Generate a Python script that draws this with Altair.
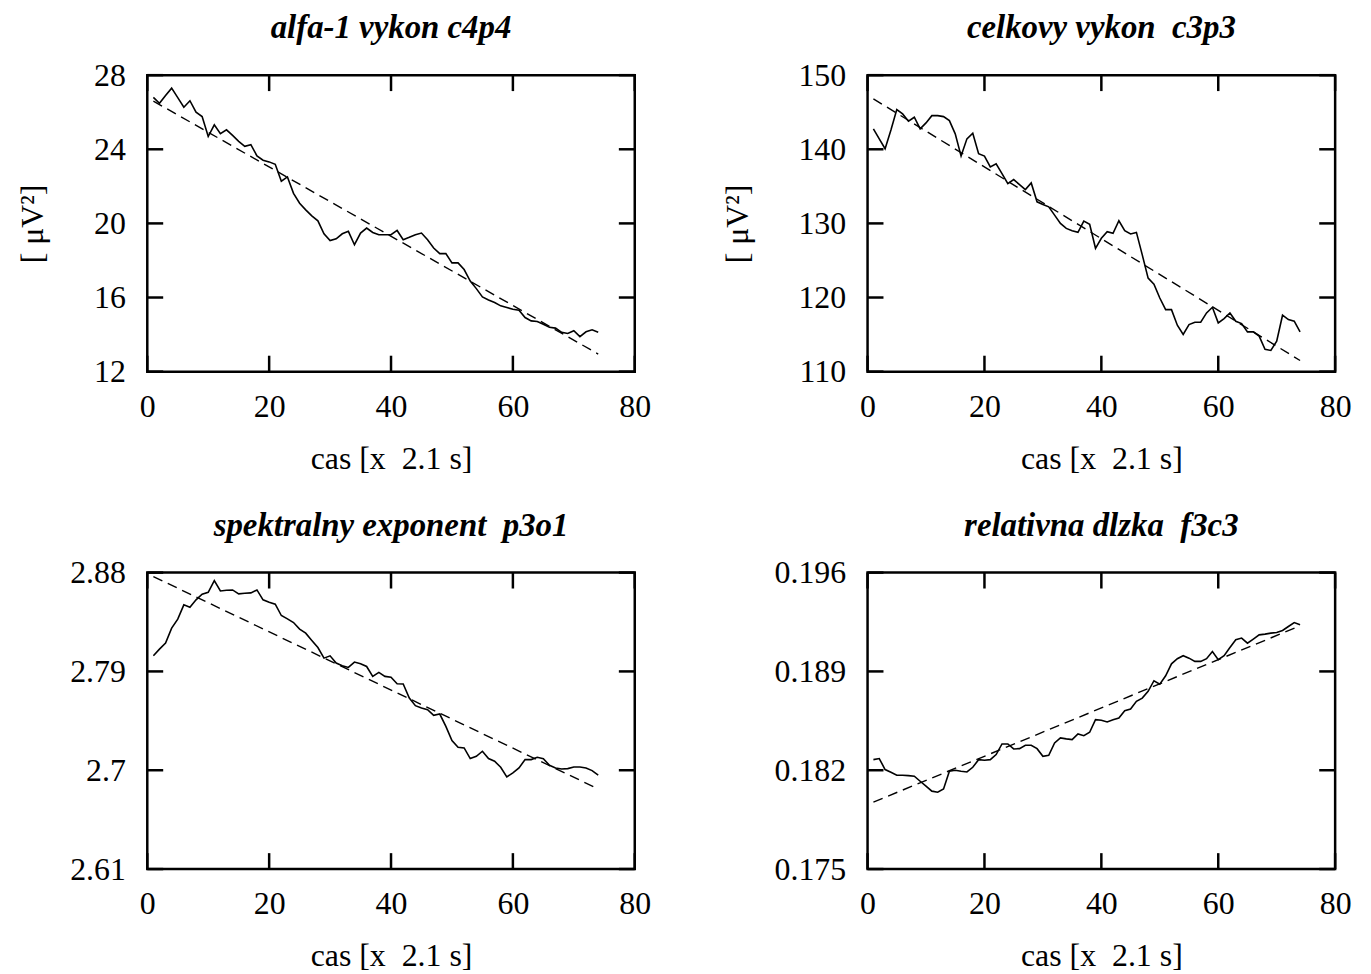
import altair as alt
import pandas as pd

# time index (x categories)
X_IDX = list(range(1, 75))

# alfa-1 vykon c4p4
ALFA = [26.80, 26.48, 26.90, 27.30, 26.79, 26.27, 26.62, 26.00, 25.77, 24.69,
        25.32, 24.84, 25.05, 24.75, 24.43, 24.16, 24.25, 23.64, 23.41, 23.32,
        23.19, 22.28, 22.51, 21.62, 21.09, 20.73, 20.41, 20.14, 19.44, 19.07,
        19.17, 19.44, 19.57, 18.85, 19.48, 19.75, 19.51, 19.39, 19.39, 19.39,
        19.62, 19.12, 19.25, 19.39, 19.48, 19.12, 18.67, 18.37, 18.37, 17.87,
        17.87, 17.51, 16.89, 16.48, 16.03, 15.87, 15.73, 15.55, 15.46, 15.37,
        15.31, 14.92, 14.74, 14.71, 14.56, 14.39, 14.35, 14.12, 14.06, 14.21,
        13.89, 14.15, 14.26, 14.12]

# celkovy vykon c3p3
CELK = [142.75, 141.40, 140.07, 142.60, 145.35, 144.77, 143.78, 144.32, 142.75, 143.56,
        144.54, 144.54, 144.41, 143.87, 142.08, 139.08, 141.41, 142.17, 139.40, 139.08,
        137.61, 138.05, 136.71, 135.37, 135.91, 135.23, 134.56, 135.46, 132.91, 132.55,
        132.24, 131.12, 130.00, 129.33, 129.02, 128.79, 130.31, 129.87, 126.64, 127.99,
        128.88, 128.66, 130.36, 129.02, 128.57, 128.79, 125.75, 122.62, 121.81, 119.93,
        118.37, 118.37, 116.26, 115.01, 116.35, 116.67, 116.67, 117.92, 118.68, 116.58,
        117.16, 117.92, 116.80, 116.49, 115.37, 115.37, 114.79, 113.00, 112.86, 114.12,
        117.61, 117.02, 116.80, 115.37]

# spektralny exponent p3o1
SPEK = [2.8042, 2.8103, 2.8158, 2.8294, 2.8376, 2.8506, 2.8485, 2.8552, 2.8603, 2.8621,
        2.8727, 2.8633, 2.8639, 2.8642, 2.8606, 2.8612, 2.8615, 2.8642, 2.8552, 2.8530,
        2.8512, 2.8409, 2.8379, 2.8345, 2.8285, 2.8248, 2.8182, 2.8118, 2.8021, 2.8042,
        2.7976, 2.7952, 2.7936, 2.7985, 2.7970, 2.7945, 2.7855, 2.7891, 2.7855, 2.7848,
        2.7788, 2.7785, 2.7658, 2.7588, 2.7567, 2.7552, 2.7500, 2.7512, 2.7400, 2.7270,
        2.7209, 2.7203, 2.7106, 2.7127, 2.7173, 2.7106, 2.7082, 2.7027, 2.6939, 2.6976,
        2.7021, 2.7097, 2.7097, 2.7118, 2.7106, 2.7045, 2.7021, 2.7012, 2.7015, 2.7030,
        2.7030, 2.7021, 2.6997, 2.6955]

# relativna dlzka f3c3
RELD = [0.18275, 0.18283, 0.18205, 0.18186, 0.18165, 0.18165, 0.18162, 0.18158, 0.18122, 0.18087,
        0.18052, 0.18044, 0.18068, 0.18193, 0.18200, 0.18193, 0.18188, 0.18221, 0.18275, 0.18271,
        0.18275, 0.18311, 0.18386, 0.18386, 0.18351, 0.18353, 0.18377, 0.18377, 0.18353, 0.18299,
        0.18306, 0.18393, 0.18429, 0.18422, 0.18417, 0.18457, 0.18445, 0.18469, 0.18558, 0.18554,
        0.18542, 0.18558, 0.18570, 0.18622, 0.18634, 0.18688, 0.18711, 0.18759, 0.18834, 0.18810,
        0.18869, 0.18954, 0.18990, 0.19011, 0.18994, 0.18971, 0.18971, 0.18990, 0.19041, 0.18983,
        0.19011, 0.19070, 0.19124, 0.19136, 0.19100, 0.19129, 0.19159, 0.19164, 0.19171, 0.19176,
        0.19190, 0.19218, 0.19246, 0.19230]

# dashed linear trend: end points at TREND_X
TREND_X = [1, 74]
ALFA_TREND = [26.60, 12.95]
CELK_TREND = [146.80, 111.50]
SPEK_TREND = [2.8764, 2.6830]
RELD_TREND = [0.17974, 0.19223]

X_TICKS = [0, 20, 40, 60, 80]
ALFA_TICKS = [12, 16, 20, 24, 28]
CELK_TICKS = [110, 120, 130, 140, 150]
SPEK_TICKS = [2.61, 2.7, 2.79, 2.88]
RELD_TICKS = [0.175, 0.182, 0.189, 0.196]

TITLES = ["alfa-1 vykon c4p4", "celkovy vykon\u00a0 c3p3",
          "spektralny exponent\u00a0 p3o1", "relativna dlzka\u00a0 f3c3"]
YLABEL = "[ \u03bcV\u00b2]"
XLABEL = "cas [x\u00a0 2.1 s]"

FONT = "Liberation Serif"
FS = 32
TFS = 33
H = 298
TL = 16


def panel(vals, trend, title, ylabel, ydom, yticks, width):
    df = pd.DataFrame({"x": X_IDX, "y": vals})
    tdf = pd.DataFrame({"x": TREND_X, "y": trend})
    xt = pd.DataFrame({"x": X_TICKS})
    yt = pd.DataFrame({"y": yticks})
    xs = alt.Scale(domain=[0, 80], nice=False, zero=False)
    ys = alt.Scale(domain=ydom, nice=False, zero=False)
    xaxis = alt.Axis(values=X_TICKS, labelExpr="'' + datum.value", grid=False,
                     ticks=False, domain=False, labelFont=FONT, labelFontSize=FS,
                     labelColor="black", labelPadding=20, labelFlush=False,
                     labelOverlap=False, titleFont=FONT, titleFontSize=FS,
                     titleFontWeight="normal", titleColor="black", titlePadding=21)
    yaxis = alt.Axis(values=yticks, labelExpr="'' + datum.value", grid=False,
                     ticks=False, domain=False, labelFont=FONT, labelFontSize=FS,
                     labelColor="black", labelPadding=22, labelFlush=False,
                     labelOverlap=False, titleFont=FONT, titleFontSize=FS,
                     titleFontWeight="normal", titleColor="black", titlePadding=44)

    def xenc():
        return alt.X("x:Q", scale=xs, axis=xaxis, title=XLABEL)

    def yenc():
        if ylabel:
            return alt.Y("y:Q", scale=ys, axis=yaxis, title=ylabel)
        return alt.Y("y:Q", scale=ys, axis=yaxis, title=None)

    line = alt.Chart(df).mark_line(color="black", strokeWidth=1.6).encode(
        x=xenc(), y=yenc())
    trendl = alt.Chart(tdf).mark_line(color="black", strokeWidth=1.4,
                                      strokeDash=[10, 6]).encode(x=xenc(), y=yenc())
    rule = dict(color="black", strokeWidth=2.5)
    xtop = alt.Chart(xt).mark_rule(**rule).encode(
        x=xenc(), y=alt.value(0), y2=alt.value(TL))
    xbot = alt.Chart(xt).mark_rule(**rule).encode(
        x=xenc(), y=alt.value(H), y2=alt.value(H - TL))
    yleft = alt.Chart(yt).mark_rule(**rule).encode(
        y=yenc(), x=alt.value(0), x2=alt.value(TL))
    yright = alt.Chart(yt).mark_rule(**rule).encode(
        y=yenc(), x=alt.value(width), x2=alt.value(width - TL))
    return alt.layer(line, trendl, xtop, xbot, yleft, yright).properties(
        width=width, height=H,
        title=alt.TitleParams(title, font=FONT, fontSize=TFS, fontStyle="italic",
                              fontWeight="bold", color="black", anchor="middle",
                              frame="group", offset=-12, baseline="alphabetic"),
    )


p1 = panel(ALFA, ALFA_TREND, TITLES[0], YLABEL, [12, 28], ALFA_TICKS, 490)
p2 = panel(CELK, CELK_TREND, TITLES[1], YLABEL, [110, 150], CELK_TICKS, 470)
p3 = panel(SPEK, SPEK_TREND, TITLES[2], None, [2.61, 2.88], SPEK_TICKS, 490)
p4 = panel(RELD, RELD_TREND, TITLES[3], None, [0.175, 0.196], RELD_TICKS, 470)

chart = alt.concat(p1, p2, p3, p4, columns=2, align="each",
                   spacing={"row": 32, "column": 67}).properties(
    padding={"left": 7, "top": 0, "right": 10, "bottom": 5},
    background="white",
).configure_view(stroke="black", strokeWidth=2.5)

chart.save("out.html", embed_options={"renderer": "svg", "actions": False})
